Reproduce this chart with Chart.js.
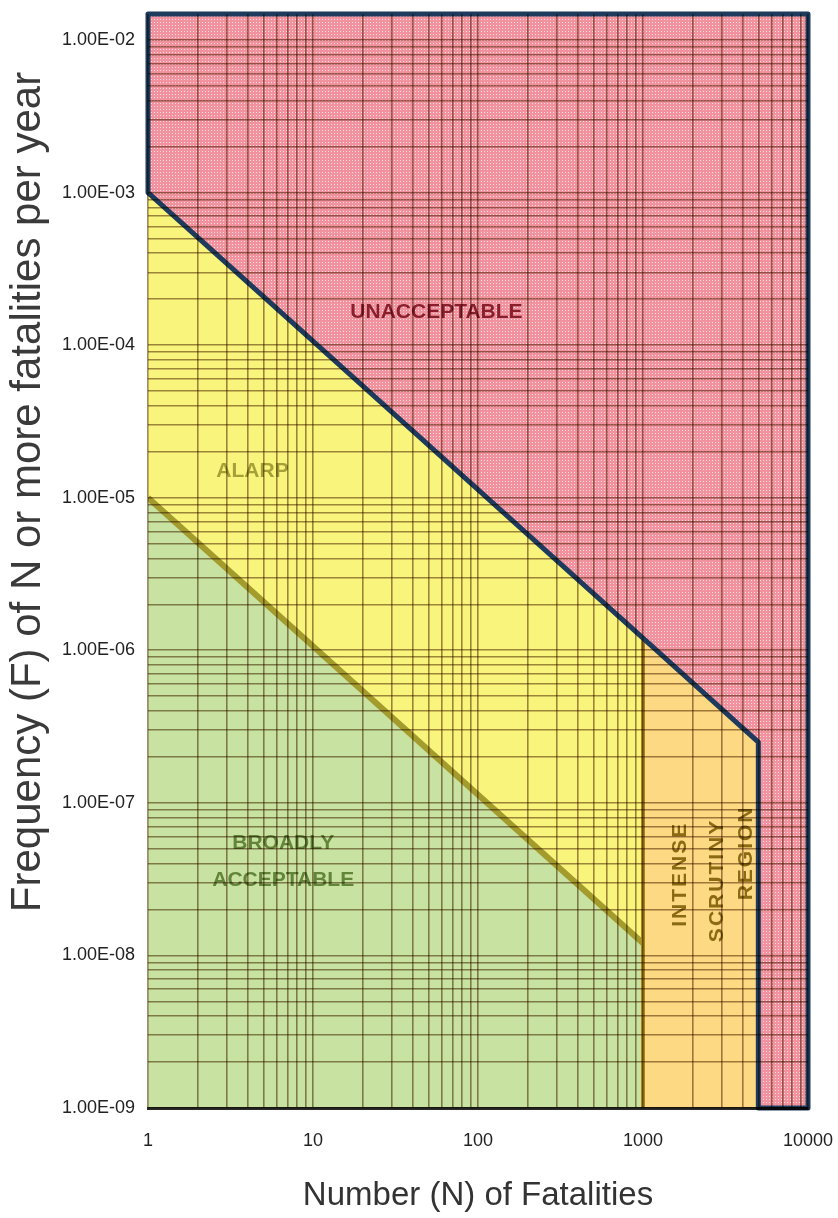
<!DOCTYPE html>
<html>
<head>
<meta charset="utf-8">
<title>F-N diagram</title>
<script src="https://cdn.jsdelivr.net/npm/chart.js@4/dist/chart.umd.min.js"></script>
<style>
  html, body { margin: 0; padding: 0; background: #fff; }
  #wrap { width: 838px; height: 1218px; position: relative; }
</style>
</head>
<body>
<div id="wrap"><canvas id="fn"></canvas></div>
<script>
// axis ranges and tick labels
const nRange = [1, 10000];
const fRange = [1e-9, 1.48e-2];
const xTickLabels = ["1", "10", "100", "1000", "10000"];
const yTickLabels = ["1.00E-09", "1.00E-08", "1.00E-07", "1.00E-06", "1.00E-05", "1.00E-04", "1.00E-03", "1.00E-02"];

// criterion lines (N, F)
const upperN = [1, 1000, 5000];
const upperF = [1e-3, 1.2e-6, 2.5e-7];
const lowerN = [1, 1000];
const lowerF = [1e-5, 1.2e-8];

// region labels and where they sit (in N, F)
const regionNames = ["UNACCEPTABLE", "ALARP", "BROADLY", "ACCEPTABLE", "INTENSE", "SCRUTINY", "REGION"];
const regionN = [56, 4.3, 6.6, 6.6, 1680, 2800, 4200];
const regionF = [1.64e-4, 1.5e-5, 5.4e-8, 3.1e-8, 3.4e-8, 3.1e-8, 4.7e-8];

const pts = (xs, ys) => xs.map((x, i) => ({ x, y: ys[i] }));

function logTicks(min, max) {
  const out = [];
  for (let e = Math.floor(Math.log10(min)); e <= Math.ceil(Math.log10(max)); e++) {
    for (let m = 1; m <= 9; m++) {
      const v = m * Math.pow(10, e);
      if (v >= min * 0.999999 && v <= max * 1.000001) out.push({ value: v });
    }
  }
  return out;
}

function decadeLabel(v, labels, firstExp) {
  const e = Math.log10(v);
  const r = Math.round(e);
  if (Math.abs(e - r) > 1e-6) return "";
  return labels[r - firstExp] || "";
}

const canvas = document.getElementById("fn");
function dotPattern(base, dot) {
  const c = document.createElement("canvas");
  c.width = 3;
  c.height = 3;
  const g = c.getContext("2d");
  g.fillStyle = base;
  g.fillRect(0, 0, 3, 3);
  g.fillStyle = dot;
  g.fillRect(1, 1, 1, 1);
  return canvas.getContext("2d").createPattern(c, "repeat");
}

const FONT = '"Liberation Sans", Arial, Helvetica, sans-serif';
Chart.defaults.font.family = FONT;

const regionStyle = [
  { color: "#8a1f2c", rot: 0 },
  { color: "#a6a038", rot: 0 },
  { color: "#62853a", rot: 0 },
  { color: "#62853a", rot: 0 },
  { color: "#8a6a12", rot: -Math.PI / 2 },
  { color: "#8a6a12", rot: -Math.PI / 2 },
  { color: "#8a6a12", rot: -Math.PI / 2 },
];

const overlay = {
  id: "overlay",
  afterDatasetsDraw(chart) {
    const { ctx, scales: { x, y } } = chart;
    ctx.save();
    ctx.textAlign = "center";
    ctx.textBaseline = "middle";
    regionNames.forEach((name, i) => {
      const st = regionStyle[i];
      ctx.save();
      ctx.translate(x.getPixelForValue(regionN[i]), y.getPixelForValue(regionF[i]));
      ctx.rotate(st.rot);
      ctx.font = "bold 21px " + FONT;
      ctx.letterSpacing = st.rot ? "2px" : "0px";
      ctx.fillStyle = st.color;
      ctx.fillText(name, 0, 0);
      ctx.restore();
    });
    // y axis title
    ctx.translate(28, 492);
    ctx.rotate(-Math.PI / 2);
    ctx.font = "42px " + FONT;
    ctx.fillStyle = "#3a3a3a";
    ctx.fillText("Frequency (F) of N or more fatalities per year", 0, 0);
    ctx.restore();
    // grid lines are laid over the coloured regions like ink on log paper
    ctx.save();
    ctx.globalCompositeOperation = "multiply";
  },
  afterDraw(chart) {
    chart.ctx.restore();
  },
};

const gridOpts = { color: "rgb(160,138,112)", lineWidth: 1.6, z: 1, drawTicks: false };

new Chart(canvas, {
  type: "line",
  plugins: [overlay],
  data: {
    datasets: [
      {
        // outline of the unacceptable region
        data: [
          { x: nRange[0], y: fRange[1] },
          ...pts(upperN, upperF),
          { x: upperN[2], y: fRange[0] },
          { x: nRange[1], y: fRange[0] },
          { x: nRange[1], y: fRange[1] },
          { x: nRange[0], y: fRange[1] },
        ],
        borderColor: "#1e3a5c",
        borderWidth: 5,
        borderJoinStyle: "round",
        fill: false,
        clip: false,
        order: 0,
      },
      {
        // divider at N = 1000
        data: [{ x: lowerN[1], y: fRange[0] }, { x: upperN[1], y: upperF[1] }],
        borderColor: "#a8861c",
        borderWidth: 4,
        fill: false,
        order: 1,
      },
      {
        // broadly acceptable
        data: pts(lowerN, lowerF),
        borderColor: "#a39b2c",
        borderWidth: 6,
        backgroundColor: "#c8e2a2",
        fill: "start",
        order: 2,
      },
      {
        // ALARP
        data: pts(upperN.slice(0, 2), upperF.slice(0, 2)),
        borderWidth: 0,
        borderColor: "rgba(0,0,0,0)",
        backgroundColor: "#f8f47c",
        fill: 2,
        order: 3,
      },
      {
        // intense scrutiny
        data: pts(upperN.slice(1), upperF.slice(1)),
        borderWidth: 0,
        borderColor: "rgba(0,0,0,0)",
        backgroundColor: "#fdd983",
        fill: "start",
        order: 4,
      },
      {
        // unacceptable
        data: [...pts(upperN, upperF), { x: upperN[2], y: fRange[0] }, { x: nRange[1], y: fRange[0] }],
        borderWidth: 0,
        borderColor: "rgba(0,0,0,0)",
        backgroundColor: dotPattern("#f1929e", "#fcdde1"),
        fill: "end",
        order: 5,
      },
    ],
  },
  options: {
    responsive: true,
    maintainAspectRatio: false,
    animation: false,
    events: [],
    layout: { padding: { top: 14, right: 30, left: 0, bottom: 0 } },
    elements: { point: { radius: 0 }, line: { tension: 0 } },
    plugins: { legend: { display: false }, tooltip: { enabled: false } },
    scales: {
      x: {
        type: "logarithmic",
        min: nRange[0],
        max: nRange[1],
        afterBuildTicks: (s) => { s.ticks = logTicks(s.min, s.max); },
        afterFit: (s) => {
          s.height = 110;
          s.paddingLeft = 0;
          s.paddingRight = 0;
        },
        ticks: {
          autoSkip: false,
          maxRotation: 0,
          padding: 22,
          color: "#222",
          font: { size: 18 },
          callback: (v) => decadeLabel(v, xTickLabels, 0),
        },
        grid: gridOpts,
        border: { display: true, color: "#2b2b2b", width: 3, z: 2 },
        title: {
          display: true,
          text: "Number (N) of Fatalities",
          color: "#333",
          font: { size: 33 },
          padding: { top: 0, bottom: 2 },
        },
      },
      y: {
        type: "logarithmic",
        min: fRange[0],
        max: fRange[1],
        afterBuildTicks: (s) => { s.ticks = logTicks(s.min, s.max); },
        afterFit: (s) => {
          s.width = 148;
          s.paddingTop = 0;
          s.paddingBottom = 0;
        },
        ticks: {
          autoSkip: false,
          padding: 13,
          color: "#222",
          font: { size: 18 },
          callback: (v) => decadeLabel(v, yTickLabels, -9),
        },
        grid: gridOpts,
        border: { display: false },
      },
    },
  },
});
</script>
</body>
</html>
